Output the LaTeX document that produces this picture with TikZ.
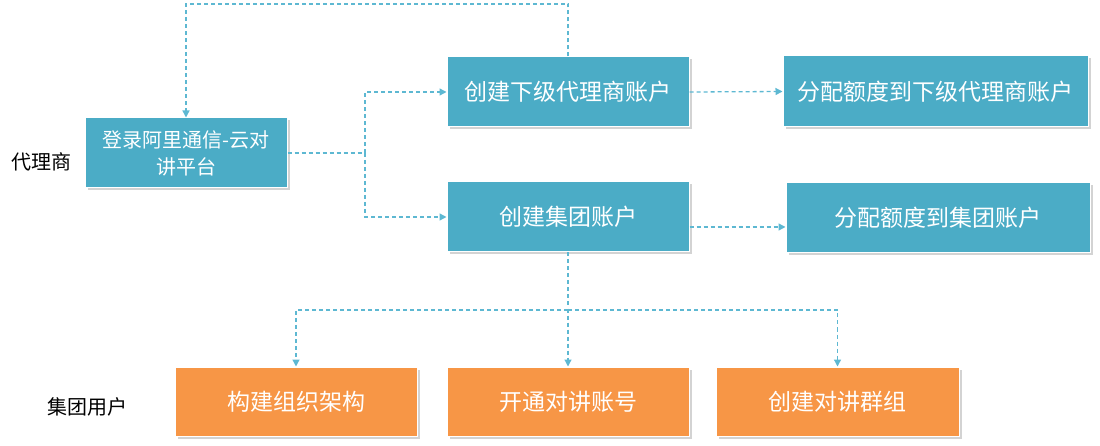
\documentclass[tikz,border=0pt]{standalone}
\usepackage{fontspec}
\setmainfont{Noto Sans CJK SC}
\usetikzlibrary{shadows,arrows.meta}
\definecolor{boxblue}{HTML}{4BACC6}
\definecolor{boxorange}{HTML}{F79646}
\definecolor{linkblue}{HTML}{5DB8D2}
\tikzset{
 box/.style={draw=white, line width=1pt, text=white, align=center, inner sep=0pt,
   font=\fontsize{23}{28}\selectfont,
   drop shadow={shadow xshift=2.5pt, shadow yshift=-2.5pt, opacity=0.35, fill=gray}},
 bluebox/.style={box, fill=boxblue},
 orangebox/.style={box, fill=boxorange},
 link/.style={draw=linkblue, line width=1.3pt, dash pattern=on 4pt off 3pt},
 arrowlink/.style={link, -{Triangle[length=7pt,width=7pt]}},
 lane/.style={font=\fontsize{20}{24}\selectfont, text=black, inner sep=0pt}
}
\begin{document}
\begin{tikzpicture}[x=1pt,y=-1pt]
\useasboundingbox (0,0) rectangle (1100,446);
% boxes
\node[bluebox, minimum width=202pt, minimum height=70pt, font=\fontsize{20}{27}\selectfont] (login) at (186,153) {登录阿里通信-云对\\讲平台};
\node[bluebox, minimum width=242pt, minimum height=70pt] (sub) at (568,92) {创建下级代理商账户};
\node[bluebox, minimum width=242pt, minimum height=70pt] (grp) at (568,217) {创建集团账户};
\node[bluebox, minimum width=305pt, minimum height=71pt] (subq) at (935.5,91.5) {分配额度到下级代理商账户};
\node[bluebox, minimum width=304pt, minimum height=70pt] (grpq) at (938,218) {分配额度到集团账户};
\node[orangebox, minimum width=242pt, minimum height=69pt] (org) at (296,401.5) {构建组织架构};
\node[orangebox, minimum width=242pt, minimum height=69pt] (acc) at (568,401.5) {开通对讲账号};
\node[orangebox, minimum width=243pt, minimum height=69pt] (team) at (837.5,401.5) {创建对讲群组};
% lane labels
\node[lane] (agent) at (42,162) {代理商};
\node[lane] (guser) at (87,407) {集团用户};
% connectors
\coordinate (topc) at (567,4);
\draw[arrowlink] (sub.north) |- (topc) -| (login.north);
\coordinate (split) at (365,153);
\draw[link] (login.east) -- (split);
\draw[arrowlink] (split) |- (sub.west);
\draw[arrowlink] (split) |- (grp.west);
\draw[arrowlink] (sub.east) -- (subq.west);
\draw[arrowlink] ([yshift=-10pt]grp.east) -- ([yshift=-9pt]grpq.west);
\coordinate (hsplit) at (568,310);
\draw[arrowlink] (grp.south) -- (acc.north);
\draw[arrowlink] (hsplit) -| (org.north);
\draw[arrowlink] (hsplit) -| (team.north);
\end{tikzpicture}
\end{document}
